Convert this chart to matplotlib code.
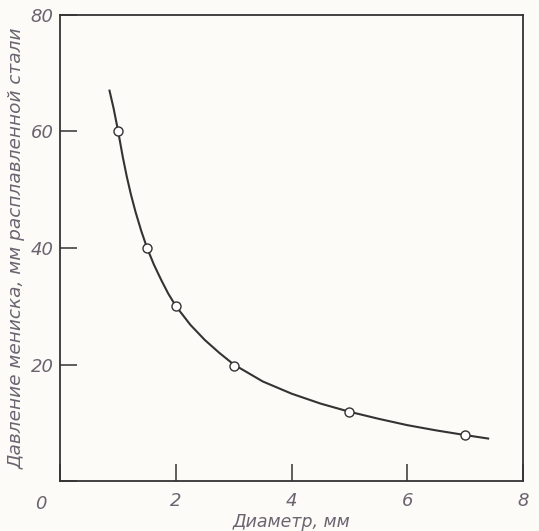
import matplotlib
matplotlib.use('Agg')
import matplotlib.pyplot as plt

# measured points (circles)
diam = [1.0, 1.5, 2.0, 3.0, 5.0, 7.0]
press = [60, 40, 30, 19.8, 11.9, 7.9]

# smooth curve
curve_x = [0.85, 0.92, 1.0, 1.08, 1.15, 1.22, 1.3, 1.4, 1.5, 1.62, 1.75, 1.87, 2.0, 2.25, 2.5, 2.75,
           3.0, 3.5, 4.0, 4.5, 5.0, 5.5, 6.0, 6.5, 7.0, 7.4]
curve_y = [67, 64, 60, 55.6, 52.2, 49.2, 46.2, 42.9, 40, 37.1, 34.4, 32.1, 30, 26.8, 24.2, 22.0,
           20, 17.1, 15.0, 13.3, 11.9, 10.7, 9.6, 8.7, 7.9, 7.3]

xticks = [0, 2, 4, 6, 8]
xlabels = ['', '2', '4', '6', '8']
yticks = [0, 20, 40, 60, 80]
ylabels = ['', '20', '40', '60', '80']

ink = '#333333'
txt = '#6a6470'

fig = plt.figure(figsize=(5.39, 5.31), dpi=100)
fig.patch.set_facecolor('#fcfbf7')
ax = fig.add_axes([0.112, 0.094, 0.858, 0.878])
ax.set_facecolor('#fcfbf7')

ax.plot(curve_x, curve_y, color=ink, lw=1.5, zorder=2)
ax.plot(diam, press, 'o', ms=6.5, mfc='white', mec=ink, mew=1.0, zorder=3)

ax.set_xlim(0, 8)
ax.set_ylim(0, 80)
ax.set_xticks(xticks)
ax.set_xticklabels(xlabels)
ax.set_yticks(yticks)
ax.set_yticklabels(ylabels)
ax.tick_params(direction='in', length=12, width=1.1, color=ink, labelcolor=txt, labelsize=13)
ax.tick_params(axis='x', pad=8)
ax.tick_params(axis='y', pad=5)
for lab in ax.get_xticklabels() + ax.get_yticklabels():
    lab.set_fontstyle('italic')
for s in ax.spines.values():
    s.set_color(ink)
    s.set_linewidth(1.3)

ax.text(-0.03, -0.03, '0', transform=ax.transAxes, ha='right', va='top',
        fontsize=13, style='italic', color=txt)

ax.set_xlabel('Диаметр, мм', fontsize=12.5, style='italic', color=txt, labelpad=2)
ax.set_ylabel('Давление мениска, мм расплавленной стали', fontsize=13.3, style='italic', color=txt, labelpad=0)
ax.yaxis.set_label_coords(-0.074, 0.5)

fig.savefig('out.png', dpi=100, facecolor=fig.get_facecolor())
